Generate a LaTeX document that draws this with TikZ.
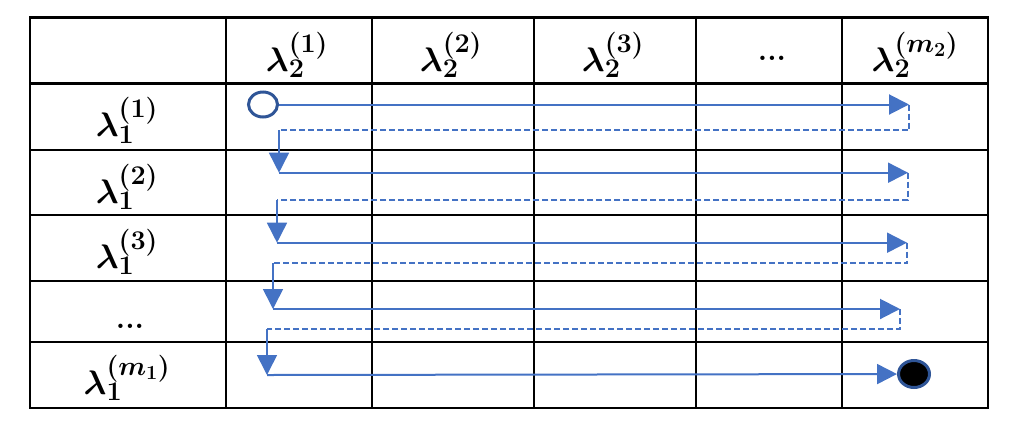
\RequirePackage{fix-cm}
\documentclass[tikz,border=0pt]{standalone}
\usetikzlibrary{arrows.meta,shapes.geometric}
\DeclareMathSizes{34}{34}{27}{20}
\definecolor{flow}{HTML}{4472C4}
\definecolor{ring}{HTML}{2F5597}
\begin{document}
\begin{tikzpicture}[x=1pt,y=-1pt,
  gridline/.style={line width=2.4pt,line cap=rect},
  lab/.style={anchor=base,inner sep=0pt,font=\fontsize{34}{40}\selectfont\boldmath},
  dotlab/.style={anchor=base,inner sep=0pt,font=\fontsize{30}{34}\selectfont\bfseries},
  flowarrow/.style={draw=flow,line width=2pt,-{Triangle[length=20pt,width=20pt]}},
  back/.style={draw=flow,line width=1.8pt,dash pattern=on 6pt off 3pt},
  startc/.style={ellipse,draw=ring,line width=3pt,minimum width=29pt,minimum height=25pt,inner sep=0pt},
  endc/.style={ellipse,draw=ring,fill=black,line width=3pt,minimum width=31pt,minimum height=27pt,inner sep=0pt}]
\useasboundingbox (0,0) rectangle (1016,432);
% table
\draw[gridline] (30,17.5) rectangle (988,408);
\foreach \y in {83.5,150,215,281,342} \draw[gridline] (30,\y) -- (988,\y);
\foreach \x in {226,372,534,696,842} \draw[gridline] (\x,17.5) -- (\x,408);
% header labels
\node[lab] (h1) at (297,71) {$\lambda_2^{(1)}$};
\node[lab] (h2) at (451,71) {$\lambda_2^{(2)}$};
\node[lab] (h3) at (613,71) {$\lambda_2^{(3)}$};
\node[dotlab] (h4) at (772,60) {...};
\node[lab] (h5) at (915,71) {$\lambda_2^{(m_2)}$};
% row labels
\node[lab] (v1) at (127,136.5) {$\lambda_1^{(1)}$};
\node[lab] (v2) at (127,203) {$\lambda_1^{(2)}$};
\node[lab] (v3) at (127,268) {$\lambda_1^{(3)}$};
\node[dotlab] (v4) at (130,328) {...};
\node[lab] (v5) at (127,394) {$\lambda_1^{(m_1)}$};
% flow
\node[startc] (s) at (263,104.5) {};
\node[endc] (e) at (914,374) {};
\coordinate (t1) at (909,104.5);
\coordinate (b1) at (279,130);
\coordinate (r2) at (279,172.7);
\coordinate (t2) at (908,172.7);
\coordinate (b2) at (277,200);
\coordinate (r3) at (277,242.7);
\coordinate (t3) at (907,242.7);
\coordinate (b3) at (273,263.3);
\coordinate (r4) at (273,309);
\coordinate (t4) at (900,309);
\coordinate (b4) at (267,329);
\coordinate (r5) at (267,375);
\draw[flowarrow] (s) -- (t1);
\draw[back] (t1) |- (b1);
\draw[flowarrow,line width=1.6pt] (b1) -- (r2);
\draw[flowarrow] (r2) -- (t2);
\draw[back] (t2) |- (b2);
\draw[flowarrow,line width=1.6pt] (b2) -- (r3);
\draw[flowarrow] (r3) -- (t3);
\draw[back] (t3) |- (b3);
\draw[flowarrow,line width=1.6pt] (b3) -- (r4);
\draw[flowarrow] (r4) -- (t4);
\draw[back] (t4) |- (b4);
\draw[flowarrow,line width=1.6pt] (b4) -- (r5);
\draw[flowarrow] (r5) -- (e);
\end{tikzpicture}
\end{document}
